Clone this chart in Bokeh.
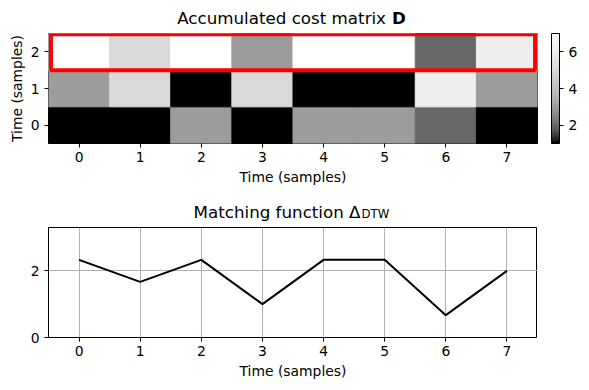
import math
from bokeh.plotting import figure
from bokeh.models import (ColumnDataSource, LinearColorMapper, ColorBar,
                          FixedTicker)
from bokeh.core.properties import value
from bokeh.transform import transform
from bokeh.layouts import column
from bokeh.embed import file_html
from bokeh.resources import INLINE

# ---------------- data ----------------
time_cols = [0, 1, 2, 3, 4, 5, 6, 7]
time_rows = [0, 1, 2]
D_row0 = [1, 1, 3, 1, 3, 3, 2, 1]
D_row1 = [3, 5, 1, 5, 1, 1, 6, 3]
D_row2 = [7, 5, 7, 3, 7, 7, 2, 6]
delta_dtw = [2.33, 1.67, 2.33, 1.0, 2.33, 2.33, 0.67, 2.0]
cbar_ticks = [2, 4, 6]
delta_yticks = [0, 2]
highlight_row = 2

FONT = "DejaVu Sans"
TICK_FS = "13.9px"
TITLE_FS = "16.7px"
LEFT = 48
FW = 489
FH = 110

# compressed gray colormap (black -> white)
palette = []
for i in range(256):
    g = math.log(1 + 10 * i / 255) / math.log(11)
    c = int(round(g * 255))
    palette.append("#%02x%02x%02x" % (c, c, c))

rows = [D_row0, D_row1, D_row2]
xs, ys, vs = [], [], []
for r, vals in zip(time_rows, rows):
    for c, v in zip(time_cols, vals):
        xs.append(c)
        ys.append(r)
        vs.append(v)
src = ColumnDataSource(dict(x=xs, y=ys, v=vs))
mapper = LinearColorMapper(palette=palette, low=1, high=7)

xr = (time_cols[0] - 0.5, time_cols[-1] + 0.5)
xc = (time_cols[0] + time_cols[-1]) / 2


def style_axes(p):
    for ax in (p.xaxis[0], p.yaxis[0]):
        ax.axis_line_color = None
        ax.major_tick_out = 4
        ax.major_tick_in = 0
        ax.minor_tick_line_color = None
        ax.major_tick_line_color = "black"
        ax.major_label_text_font = FONT
        ax.major_label_text_font_size = TICK_FS
        ax.major_label_text_color = "black"
        ax.major_label_standoff = 4
        ax.axis_label_text_font = FONT
        ax.axis_label_text_font_size = TICK_FS
        ax.axis_label_text_font_style = "normal"
        ax.axis_label_text_color = "black"
        ax.axis_label_standoff = 4
    p.outline_line_color = "black"
    p.outline_line_width = 1
    p.outline_line_alpha = 1


def title_strip(height):
    t = figure(frame_width=FW, frame_height=height, x_range=xr,
               y_range=(0, height), output_backend="svg",
               toolbar_location=None, min_border=0, min_border_left=LEFT,
               min_border_right=0)
    t.axis.visible = False
    t.grid.visible = False
    t.outline_line_color = None
    return t


# ---------------- title strip 1 ----------------
t1 = title_strip(33)
t1.text(x=[xc], y=[15.5], text=["Accumulated cost matrix"], x_offset=93,
        text_align="right", text_baseline="alphabetic",
        text_font=value(FONT), text_font_size=value(TITLE_FS),
        text_color="black")
t1.text(x=[xc], y=[15.5], text=["D"], x_offset=99,
        text_align="left", text_baseline="alphabetic",
        text_font=value(FONT), text_font_size=value(TITLE_FS),
        text_font_style=value("bold"), text_color="black")

# ---------------- top: accumulated cost matrix ----------------
p1 = figure(frame_width=FW, frame_height=FH, x_range=xr,
            y_range=(time_rows[0] - 0.5, time_rows[-1] + 0.5),
            output_backend="svg", toolbar_location=None,
            min_border_left=LEFT, min_border_top=0, min_border_bottom=50,
            min_border_right=0)
p1.rect(x="x", y="y", width=1, height=1, source=src,
        fill_color=transform("v", mapper), line_color=transform("v", mapper),
        line_width=1)
p1.quad(left=[time_cols[0] - 0.46], right=[time_cols[-1] + 0.46],
        bottom=[highlight_row - 0.5], top=[highlight_row + 0.48],
        fill_color=None, line_color="red", line_width=4)
p1.grid.visible = False
p1.xaxis.ticker = FixedTicker(ticks=time_cols)
p1.yaxis.ticker = FixedTicker(ticks=time_rows)
p1.xaxis.axis_label = "Time (samples)"
p1.yaxis.axis_label = "Time (samples)"
style_axes(p1)
p1.yaxis.major_label_standoff = 5
p1.yaxis.axis_label_standoff = 3

cb = ColorBar(color_mapper=mapper, ticker=FixedTicker(ticks=cbar_ticks),
              width=8, height=FH, location=(14, 0), margin=0, padding=0,
              major_tick_in=0, major_tick_out=4, major_tick_line_color="black",
              minor_tick_line_color=None, bar_line_color="black",
              border_line_color=None, background_fill_alpha=0,
              label_standoff=5, major_label_text_font=FONT,
              major_label_text_font_size=TICK_FS,
              major_label_text_color="black")
p1.add_layout(cb, "right")

# ---------------- title strip 2 ----------------
t2 = title_strip(34)
t2.text(x=[xc], y=[16], text=["Matching function Δ"], x_offset=67.5,
        text_align="right", text_baseline="alphabetic",
        text_font=value(FONT), text_font_size=value(TITLE_FS),
        text_color="black")
t2.text(x=[xc], y=[14], text=["DTW"], x_offset=68.5,
        text_align="left", text_baseline="alphabetic",
        text_font=value(FONT), text_font_size=value("11.7px"),
        text_color="black")

# ---------------- bottom: matching function ----------------
p2 = figure(frame_width=FW, frame_height=FH, x_range=xr, y_range=(0, 3.3),
            output_backend="svg", toolbar_location=None,
            min_border_left=LEFT, min_border_top=0, min_border_bottom=45,
            min_border_right=0)
p2.line(time_cols, delta_dtw, line_color="black", line_width=2)
p2.xaxis.ticker = FixedTicker(ticks=time_cols)
p2.yaxis.ticker = FixedTicker(ticks=delta_yticks)
p2.xgrid.ticker = FixedTicker(ticks=time_cols)
p2.ygrid.ticker = FixedTicker(ticks=delta_yticks)
p2.grid.grid_line_color = "#b0b0b0"
p2.grid.grid_line_width = 1
p2.xaxis.axis_label = "Time (samples)"
style_axes(p2)
p2.yaxis.major_label_standoff = 5

layout = column(t1, p1, t2, p2, spacing=0)
open("out.html", "w").write(file_html(layout, INLINE))
